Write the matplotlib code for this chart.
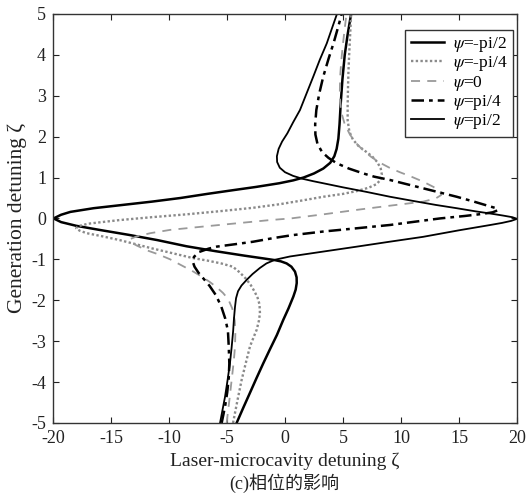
import matplotlib
matplotlib.use("Agg")
import matplotlib.pyplot as plt
from matplotlib.ticker import FuncFormatter

plt.rcParams['font.family'] = ['Liberation Serif', 'Noto Sans CJK SC']
plt.rcParams['mathtext.fontset'] = 'stix'
plt.rcParams['axes.unicode_minus'] = False

labels = ["$\\psi$=-pi/2", "$\\psi$=-pi/4", "$\\psi$=0", "$\\psi$=pi/4", "$\\psi$=pi/2"]

# psi = -pi/2 (thick solid): bottom -> bend -> left tip -> top
x_m2 = [-4.17, -3.6, -3.0, -2.45, -1.87, -1.3, -0.7, -0.15, 0.3, 0.72, 0.92, 1.01, 1.0,
        0.86, 0.55, 0.14, -0.35, -0.86, -1.8, -3.5, -6.0, -8.5, -11.0, -13.5, -16.0,
        -18.0, -19.3, -19.95, -19.3, -18.5, -16.5, -14.0, -11.5, -9.0, -6.7, -4.5,
        -2.5, -0.5, 0.7, 1.6, 2.5, 3.3, 3.9, 4.25, 4.45, 4.6, 4.7, 4.8, 4.95, 5.15,
        5.4, 5.7]
y_m2 = [-5.0, -4.63, -4.25, -3.9, -3.54, -3.2, -2.85, -2.48, -2.2, -1.91, -1.74, -1.58,
        -1.44, -1.30, -1.18, -1.10, -1.05, -1.02, -0.98, -0.91, -0.80, -0.68, -0.53,
        -0.40, -0.28, -0.18, -0.09, 0.0, 0.09, 0.16, 0.25, 0.33, 0.41, 0.50, 0.60,
        0.69, 0.77, 0.86, 0.93, 1.0, 1.1, 1.22, 1.36, 1.52, 1.70, 1.95, 2.3, 2.8,
        3.4, 4.0, 4.5, 5.0]

# psi = -pi/4 (grey dotted): bottom -> left tip -> right bend -> top
x_m1 = [-4.48, -4.1, -3.74, -3.35, -3.02, -2.7, -2.44, -2.25, -2.16, -2.2, -2.35, -2.6,
        -2.95, -3.35, -3.9, -4.5, -5.5, -6.7, -7.93, -9.7, -11.5, -13.0, -14.25, -15.7,
        -17.1, -17.7, -18.0, -17.85, -17.4, -17.0, -15.5, -14.25, -11.5, -8.5, -5.5,
        -2.76, -0.4, 1.5, 3.3, 5.0, 6.2, 7.2, 7.9, 8.25, 8.35, 8.25, 7.95, 7.5, 6.9,
        6.3, 5.85, 5.55, 5.4, 5.4, 5.43, 5.47, 5.53, 5.6, 5.7]
y_m1 = [-5.0, -4.45, -3.95, -3.5, -3.13, -2.9, -2.72, -2.5, -2.32, -2.1, -1.95, -1.8,
        -1.63, -1.48, -1.32, -1.18, -1.1, -1.03, -0.97, -0.85, -0.73, -0.62, -0.53,
        -0.44, -0.36, -0.3, -0.24, -0.19, -0.16, -0.13, -0.08, -0.04, 0.03, 0.10, 0.18,
        0.26, 0.35, 0.44, 0.53, 0.60, 0.67, 0.75, 0.84, 0.95, 1.07, 1.22, 1.38, 1.52,
        1.65, 1.78, 1.93, 2.12, 2.4, 2.75, 3.2, 3.6, 4.0, 4.4, 5.0]

# psi = 0 (grey dashed)
x_0 = [-5.03, -4.8, -4.6, -4.42, -4.31, -4.28, -4.33, -4.55, -4.9, -5.35, -5.9, -6.5,
       -7.2, -7.9, -8.9, -9.9, -10.9, -11.9, -12.8, -13.4, -13.3, -12.8, -11.6, -9.9,
       -7.1, -4.2, -1.3, 0.5, 3.3, 6.2, 9.0, 11.9, 13.0, 13.45, 13.4, 12.8, 11.9, 10.9,
       9.9, 9.0, 8.2, 7.45, 6.75, 6.1, 5.6, 5.15, 4.85, 4.72, 4.75, 4.85, 5.0, 5.15,
       5.3]
y_0 = [-5.0, -4.45, -3.95, -3.5, -3.13, -2.8, -2.5, -2.2, -1.97, -1.82, -1.68, -1.55,
       -1.42, -1.3, -1.15, -1.0, -0.88, -0.78, -0.66, -0.56, -0.5, -0.44, -0.36, -0.28,
       -0.2, -0.12, -0.04, 0.0, 0.1, 0.21, 0.31, 0.41, 0.49, 0.57, 0.65, 0.77, 0.9,
       1.02, 1.13, 1.24, 1.36, 1.5, 1.66, 1.85, 2.05, 2.3, 2.6, 3.0, 3.45, 3.85, 4.28,
       4.65, 5.0]

# psi = pi/4 (black dash-dot)
x_p1 = [-5.46, -5.17, -4.98, -4.85, -4.8, -4.85, -4.92, -5.15, -5.5, -5.95, -6.5, -7.0,
        -7.45, -7.8, -7.95, -7.85, -7.4, -6.6, -5.9, -4.3, -2.76, -1.0, 0.6, 3.3, 6.2,
        9.05, 11.2, 13.36, 15.5, 17.0, 17.9, 18.35, 18.2, 17.6, 16.3, 14.8, 12.0, 9.05,
        7.7, 6.75, 5.5, 4.45, 3.75, 3.2, 2.8, 2.62, 2.6, 2.7, 2.95, 3.3, 3.75, 4.2,
        4.55, 4.89]
y_p1 = [-5.0, -4.6, -4.25, -3.9, -3.55, -3.13, -2.75, -2.45, -2.15, -1.88, -1.65, -1.48,
        -1.33, -1.18, -1.06, -0.94, -0.82, -0.74, -0.69, -0.63, -0.57, -0.48, -0.41,
        -0.32, -0.24, -0.16, -0.08, 0.0, 0.06, 0.11, 0.15, 0.2, 0.25, 0.3, 0.41, 0.53,
        0.73, 0.94, 1.02, 1.1, 1.22, 1.35, 1.48, 1.62, 1.82, 2.05, 2.3, 2.65, 3.05,
        3.47, 3.9, 4.3, 4.65, 5.0]

# psi = pi/2 (thin solid): top -> left bend -> right tip -> bottom
x_p2 = [4.48, 4.05, 3.6, 3.0, 2.44, 1.85, 1.29, 0.7, 0.2, -0.25, -0.55, -0.7, -0.68,
        -0.45, 0.0, 0.7, 1.5, 2.44, 3.3, 5.0, 7.0, 9.05, 11.0, 13.0, 14.8, 16.5, 17.7,
        18.8, 19.6, 20.0, 19.5, 18.7, 17.7, 15.0, 11.9, 9.0, 6.18, 3.3, 0.43, -0.86,
        -1.6, -2.16, -2.8, -3.3, -3.75, -4.05, -4.22, -4.31, -4.4, -4.47, -4.6, -4.75,
        -4.95, -5.17, -5.4, -5.6]
y_p2 = [5.0, 4.65, 4.28, 3.88, 3.47, 3.05, 2.65, 2.35, 2.08, 1.88, 1.7, 1.52, 1.38,
        1.24, 1.13, 1.04, 0.97, 0.91, 0.86, 0.76, 0.65, 0.53, 0.43, 0.33, 0.25, 0.17,
        0.12, 0.07, 0.03, -0.01, -0.06, -0.11, -0.16, -0.29, -0.45, -0.57, -0.69, -0.81,
        -0.93, -1.01, -1.1, -1.21, -1.36, -1.5, -1.64, -1.78, -1.95, -2.16, -2.45,
        -2.75, -3.15, -3.55, -3.95, -4.36, -4.7, -5.0]

xticks = [-20, -15, -10, -5, 0, 5, 10, 15, 20]
yticks = [-5, -4, -3, -2, -1, 0, 1, 2, 3, 4, 5]

fig = plt.figure(figsize=(5.30, 4.97), dpi=100)
ax = fig.add_axes([0.1, 0.149, 0.8755, 0.823])

ax.plot(x_m2, y_m2, color='black', lw=1.8, ls='-', label=labels[0])
ax.plot(x_m1, y_m1, color='#8a8a8a', lw=1.7, ls=(0, (1, 1)), label=labels[1])
ax.plot(x_0, y_0, color='#9a9a9a', lw=1.3, ls=(0, (5, 4)), label=labels[2])
ax.plot(x_p1, y_p1, color='black', lw=1.8, ls=(0, (5, 2, 1.5, 2)), label=labels[3])
ax.plot(x_p2, y_p2, color='black', lw=1.3, ls='-', label=labels[4])

ax.set_xlim(-20, 20)
ax.set_ylim(-5, 5)
ax.set_xticks(xticks)
ax.set_yticks(yticks)
fmt = FuncFormatter(lambda v, p: f"{v:g}")
ax.xaxis.set_major_formatter(fmt)
ax.yaxis.set_major_formatter(fmt)
ax.tick_params(direction='in', top=True, right=True, length=4, width=0.8,
               labelsize=13, colors='#222222')
ax.tick_params(axis='x', pad=5)
ax.tick_params(axis='y', pad=5)
for s in ax.spines.values():
    s.set_color('#333333')
    s.set_linewidth(1.0)

ax.set_xlabel("Laser-microcavity detuning ζ", fontsize=14, color='#222222', labelpad=4)
ax.set_ylabel("Generation detuning ζ", fontsize=15.5, color='#222222', labelpad=3)
fig.text(0.537, 0.008, "(c)相位的影响", ha='center', va='bottom', fontsize=13,
         color='#222222')

leg = ax.legend(loc='upper right', bbox_to_anchor=(0.991, 0.961), fontsize=12.5,
                frameon=True, fancybox=False, edgecolor='#333333', framealpha=1,
                labelspacing=0.02, handlelength=1.9, handletextpad=0.55,
                borderpad=0.3, borderaxespad=0.0)
leg.get_frame().set_linewidth(1.0)

fig.savefig("out.png", dpi=100)
